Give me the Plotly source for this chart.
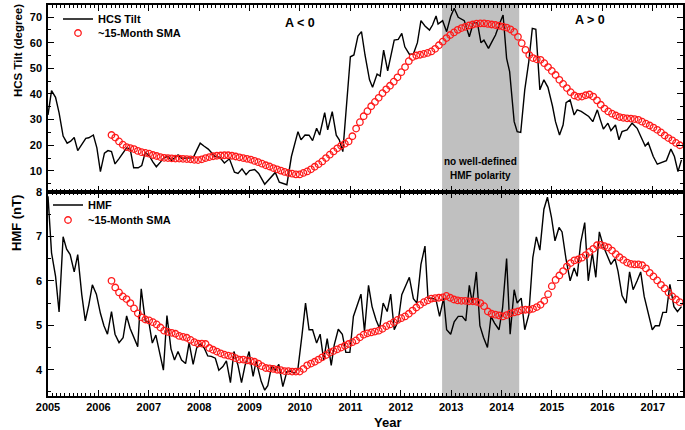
import numpy as np
import plotly.graph_objects as go
from plotly.subplots import make_subplots

# ---------------- data ----------------
tilt_year = [2005.00, 2005.07, 2005.15, 2005.22, 2005.30, 2005.38, 2005.45, 2005.52, 2005.59, 2005.67,
             2005.75, 2005.81, 2005.90, 2005.97, 2006.04, 2006.12, 2006.19, 2006.26, 2006.33, 2006.41,
             2006.48, 2006.56, 2006.63, 2006.70, 2006.79, 2006.86, 2006.93, 2007.01, 2007.08, 2007.15,
             2007.23, 2007.30, 2007.38, 2007.45, 2007.52, 2007.58, 2007.65, 2007.73, 2007.80, 2007.88,
             2007.95, 2008.02, 2008.10, 2008.18, 2008.25, 2008.31, 2008.41, 2008.50, 2008.60, 2008.70,
             2008.77, 2008.85, 2008.93, 2009.00, 2009.10, 2009.18, 2009.30, 2009.42, 2009.51, 2009.59,
             2009.74, 2009.83, 2009.96, 2010.02, 2010.10, 2010.18, 2010.25, 2010.33, 2010.39, 2010.49,
             2010.55, 2010.64, 2010.72, 2010.78, 2010.85, 2011.00, 2011.07, 2011.15, 2011.22, 2011.29,
             2011.38, 2011.44, 2011.53, 2011.59, 2011.66, 2011.74, 2011.87, 2011.95, 2012.02, 2012.08,
             2012.17, 2012.25, 2012.33, 2012.40, 2012.48, 2012.57, 2012.63, 2012.70, 2012.74, 2012.83,
             2012.91, 2012.99, 2013.06, 2013.14, 2013.22, 2013.26, 2013.36, 2013.44, 2013.52, 2013.59,
             2013.65, 2013.74, 2013.81, 2013.88, 2013.95, 2014.03, 2014.10, 2014.16, 2014.25, 2014.31,
             2014.38, 2014.46, 2014.54, 2014.61, 2014.68, 2014.76, 2014.84, 2014.92, 2015.01, 2015.07,
             2015.15, 2015.22, 2015.28, 2015.36, 2015.44, 2015.50, 2015.58, 2015.66, 2015.73, 2015.81,
             2015.90, 2015.96, 2016.02, 2016.11, 2016.17, 2016.26, 2016.33, 2016.39, 2016.49, 2016.59,
             2016.69, 2016.77, 2016.85, 2016.91, 2017.01, 2017.09, 2017.17, 2017.27, 2017.36, 2017.43,
             2017.50, 2017.57]
tilt_deg = [31.8, 41.3, 38.7, 32.6, 23.6, 20.8, 21.6, 23.0, 17.9, 20.5,
            22.7, 22.9, 24.0, 19.0, 9.7, 16.9, 17.9, 17.5, 12.7, 14.8,
            16.9, 19.0, 18.6, 11.2, 11.2, 12.1, 17.2, 15.9, 13.5, 11.6,
            13.4, 15.1, 15.7, 14.1, 15.2, 16.2, 14.9, 15.0, 15.0, 15.1,
            18.0, 20.8, 19.6, 18.5, 17.0, 15.7, 15.3, 13.1, 14.7, 9.5,
            9.0, 10.8, 8.5, 10.1, 10.5, 9.0, 4.8, 7.2, 9.4, 5.6,
            4.6, 15.6, 25.3, 22.1, 24.0, 23.9, 21.8, 26.6, 24.0, 32.7,
            26.0, 33.1, 23.9, 22.1, 17.5, 54.5, 55.2, 62.6, 64.3, 55.2,
            45.5, 42.6, 47.8, 47.0, 57.1, 49.0, 61.0, 61.3, 63.6, 58.4,
            55.5, 55.6, 60.0, 68.6, 66.5, 64.9, 66.9, 70.4, 67.3, 68.6,
            64.3, 70.2, 73.4, 69.9, 69.1, 68.6, 62.3, 67.8, 67.8, 60.0,
            61.0, 57.8, 60.4, 63.0, 66.9, 70.8, 53.9, 48.7, 29.2, 25.3,
            25.0, 41.6, 52.6, 65.6, 65.2, 41.6, 45.5, 42.6, 35.3, 29.2,
            24.0, 27.9, 36.6, 37.7, 31.8, 33.8, 33.2, 32.2, 31.2, 29.2,
            33.8, 29.9, 26.3, 28.6, 25.7, 27.9, 22.1, 25.3, 26.0, 28.6,
            26.6, 23.1, 19.7, 21.0, 15.6, 12.6, 13.2, 14.0, 18.5, 15.6,
            9.7, 14.3]

# ~15-month SMA, one value per Carrington rotation starting 2006.26
sma_start = 2006.26
cr_step = 27.2753 / 365.25
tilt_sma = [24.0, 23.0, 21.5, 20.2, 19.3, 18.9, 18.5, 17.8, 17.3, 17.0,
            16.7, 16.2, 15.8, 15.4, 15.1, 15.0, 14.9, 14.8, 14.8, 14.7,
            14.6, 14.5, 14.3, 14.2, 14.5, 15.0, 15.4, 15.7, 15.9, 16.0,
            16.1, 16.1, 15.9, 15.6, 15.3, 15.0, 14.7, 14.4, 13.9, 13.4,
            12.8, 12.2, 11.7, 11.1, 10.6, 10.1, 9.6, 9.2, 8.9, 8.6,
            8.6, 9.2, 9.8, 10.6, 11.6, 12.6, 13.7, 15.0, 16.3, 17.6,
            18.8, 19.8, 20.6, 21.5, 23.5, 26.5, 29.0, 31.3, 33.3, 35.2,
            36.9, 38.5, 40.3, 41.8, 43.2, 44.8, 46.5, 48.5, 50.5, 52.8,
            54.4, 55.0, 55.3, 55.6, 56.0, 56.6, 57.6, 59.0, 60.4, 61.8,
            63.0, 64.0, 65.0, 65.7, 66.2, 66.7, 67.1, 67.4, 67.5, 67.5,
            67.3, 67.1, 66.9, 66.6, 66.3, 65.9, 65.2, 64.2, 62.3, 59.8,
            57.2, 55.2, 54.0, 53.5, 53.3, 52.0, 50.5, 49.0, 47.4, 45.5,
            43.9, 42.3, 40.7, 39.4, 38.9, 39.0, 39.5, 39.8, 39.0, 37.5,
            35.8, 34.3, 33.2, 32.3, 31.6, 31.0, 30.7, 30.5, 30.4, 30.2,
            29.9, 29.2, 28.4, 27.7, 26.9, 26.0, 25.0, 23.8, 22.8, 21.9,
            20.9, 20.0]

hmf_year = [2005.00, 2005.07, 2005.15, 2005.22, 2005.30, 2005.37, 2005.44, 2005.52, 2005.59, 2005.67,
            2005.74, 2005.81, 2005.88, 2005.96, 2006.04, 2006.11, 2006.18, 2006.26, 2006.33, 2006.41,
            2006.49, 2006.56, 2006.63, 2006.71, 2006.78, 2006.85, 2006.93, 2007.00, 2007.07, 2007.14,
            2007.22, 2007.29, 2007.36, 2007.44, 2007.51, 2007.58, 2007.65, 2007.73, 2007.80, 2007.88,
            2007.95, 2008.02, 2008.10, 2008.17, 2008.24, 2008.32, 2008.39, 2008.47, 2008.54, 2008.62,
            2008.69, 2008.77, 2008.84, 2008.91, 2008.99, 2009.07, 2009.13, 2009.23, 2009.30, 2009.36,
            2009.44, 2009.51, 2009.58, 2009.66, 2009.74, 2009.81, 2009.89, 2009.96, 2010.04, 2010.11,
            2010.18, 2010.25, 2010.33, 2010.40, 2010.47, 2010.54, 2010.62, 2010.68, 2010.76, 2010.84,
            2010.91, 2010.99, 2011.06, 2011.13, 2011.21, 2011.28, 2011.36, 2011.43, 2011.51, 2011.58,
            2011.65, 2011.73, 2011.80, 2011.87, 2011.95, 2012.02, 2012.09, 2012.17, 2012.25, 2012.32,
            2012.40, 2012.48, 2012.54, 2012.62, 2012.70, 2012.77, 2012.85, 2012.91, 2012.99, 2013.06,
            2013.14, 2013.22, 2013.29, 2013.36, 2013.42, 2013.50, 2013.57, 2013.64, 2013.72, 2013.79,
            2013.86, 2013.95, 2014.02, 2014.10, 2014.17, 2014.25, 2014.31, 2014.39, 2014.46, 2014.54,
            2014.62, 2014.69, 2014.76, 2014.84, 2014.91, 2014.99, 2015.06, 2015.14, 2015.20, 2015.28,
            2015.36, 2015.44, 2015.50, 2015.57, 2015.65, 2015.72, 2015.80, 2015.87, 2015.94, 2016.02,
            2016.10, 2016.17, 2016.25, 2016.31, 2016.39, 2016.47, 2016.54, 2016.61, 2016.69, 2016.76,
            2016.83, 2016.91, 2016.99, 2017.05, 2017.13, 2017.20, 2017.27, 2017.34, 2017.42, 2017.49,
            2017.57]
hmf_nt = [7.90, 6.63, 6.10, 5.30, 6.99, 6.71, 6.59, 6.20, 6.59, 5.69,
          5.10, 5.46, 5.91, 5.70, 5.27, 4.99, 4.80, 5.31, 4.80, 4.61,
          4.72, 5.21, 4.93, 4.72, 4.52, 5.82, 5.10, 5.08, 4.60, 4.78,
          4.33, 3.99, 5.22, 4.47, 4.22, 4.41, 4.22, 4.14, 4.61, 4.12,
          4.49, 4.58, 4.49, 4.31, 4.30, 4.26, 3.99, 4.07, 4.20, 3.71,
          4.41, 4.10, 3.71, 4.10, 4.41, 3.85, 4.20, 3.74, 3.54, 3.64,
          4.10, 3.99, 4.12, 3.62, 3.96, 3.97, 3.92, 4.03, 4.78, 5.50,
          4.90, 4.90, 4.60, 4.80, 4.22, 4.70, 4.10, 4.56, 4.91, 4.80,
          4.39, 4.39, 5.20, 5.42, 5.70, 4.86, 5.90, 5.42, 5.12, 4.93,
          5.50, 5.31, 5.70, 4.90, 5.10, 5.69, 5.88, 6.08, 5.60, 5.50,
          6.37, 6.78, 5.61, 5.61, 5.57, 5.20, 5.61, 4.90, 4.80, 5.08,
          5.20, 5.20, 5.10, 5.90, 5.50, 6.20, 4.99, 4.73, 4.50, 5.20,
          5.05, 4.90, 5.39, 6.50, 4.80, 5.80, 5.50, 5.61, 4.90, 5.24,
          6.52, 6.99, 6.69, 7.61, 7.88, 7.43, 6.90, 7.20, 7.10, 6.48,
          6.00, 6.29, 6.10, 6.86, 7.31, 6.00, 6.63, 6.08, 7.10, 6.78,
          6.56, 6.37, 6.50, 6.22, 5.67, 5.50, 6.20, 5.80, 6.00, 6.20,
          5.65, 5.29, 4.90, 4.99, 4.99, 5.29, 5.29, 5.92, 5.42, 5.31,
          5.42]

hmf_sma = [6.00, 5.85, 5.74, 5.65, 5.59, 5.50, 5.38, 5.27, 5.18, 5.13,
           5.11, 5.07, 5.02, 4.95, 4.88, 4.85, 4.83, 4.81, 4.76, 4.74,
           4.72, 4.67, 4.62, 4.59, 4.59, 4.58, 4.49, 4.45, 4.41, 4.37,
           4.34, 4.32, 4.30, 4.26, 4.23, 4.23, 4.21, 4.20, 4.18, 4.14,
           4.08, 4.04, 4.03, 4.02, 4.00, 3.99, 3.97, 3.97, 3.96, 3.96,
           3.96, 4.02, 4.10, 4.14, 4.18, 4.23, 4.28, 4.33, 4.39, 4.42,
           4.46, 4.50, 4.54, 4.58, 4.62, 4.66, 4.73, 4.79, 4.82, 4.84,
           4.86, 4.88, 4.92, 4.98, 5.02, 5.07, 5.12, 5.16, 5.20, 5.26,
           5.33, 5.40, 5.46, 5.52, 5.56, 5.60, 5.61, 5.62, 5.63, 5.66,
           5.62, 5.58, 5.56, 5.55, 5.55, 5.54, 5.54, 5.53, 5.50, 5.43,
           5.31, 5.26, 5.24, 5.22, 5.20, 5.23, 5.27, 5.29, 5.31, 5.34,
           5.35, 5.35, 5.37, 5.41, 5.46, 5.55, 5.70, 5.88, 6.02, 6.12,
           6.22, 6.32, 6.40, 6.46, 6.48, 6.52, 6.58, 6.65, 6.72, 6.80,
           6.81, 6.78, 6.75, 6.68, 6.60, 6.53, 6.47, 6.41, 6.38, 6.37,
           6.37, 6.35, 6.28, 6.18, 6.10, 6.01, 5.91, 5.83, 5.74, 5.65,
           5.58, 5.52]

year_ticks = list(range(2005, 2018))
no_polarity_span = [2012.82, 2014.35]

# ---------------- figure ----------------
sma_x_tilt = sma_start + cr_step * np.arange(len(tilt_sma))
sma_x_hmf = sma_start + cr_step * np.arange(len(hmf_sma))

W, H = 685, 430
ML, MR, MT, MB = 48, 2, 5, 34
PW, PH = W - ML - MR, H - MT - MB


def px(xp):
    return (xp - ML) / PW


def py(yp):
    return (H - MB - yp) / PH


FONT = "Liberation Sans, Arial, sans-serif"
fig = make_subplots(rows=2, cols=1, shared_xaxes=True, vertical_spacing=0,
                    row_heights=[0.478, 0.522])

line_style = dict(color="black", width=1.4)
circ_style = dict(symbol="circle-open", size=6.5, color="#ff1a1a", line=dict(width=1.3, color="#ff1a1a"))

fig.add_trace(go.Scatter(x=tilt_year, y=tilt_deg, mode="lines", line=line_style,
                         name="HCS Tilt", legend="legend", showlegend=True), row=1, col=1)
fig.add_trace(go.Scatter(x=sma_x_tilt, y=tilt_sma, mode="markers", marker=circ_style,
                         name="~15-Month SMA", legend="legend2", showlegend=True), row=1, col=1)
fig.add_trace(go.Scatter(x=hmf_year, y=hmf_nt, mode="lines", line=line_style,
                         name="HMF", legend="legend3", showlegend=True), row=2, col=1)
fig.add_trace(go.Scatter(x=sma_x_hmf, y=hmf_sma, mode="markers", marker=circ_style,
                         name="~15-Month SMA", legend="legend4", showlegend=True), row=2, col=1)

fig.add_shape(type="rect", xref="x", yref="paper", x0=no_polarity_span[0], x1=no_polarity_span[1],
              y0=0, y1=1, fillcolor="#c0c0c0", line_width=0, layer="below")

tickfont = dict(family=FONT, size=11, color="black", weight="bold")
xcommon = dict(range=[2005, 2017.6], showline=True, linewidth=1.5, linecolor="black", mirror="allticks",
               ticks="inside", ticklen=6, tickwidth=1.2, tickcolor="black", tick0=2005, dtick=1,
               minor=dict(ticks="inside", ticklen=3, tickwidth=1, tickcolor="black", dtick=1/12, tick0=2005),
               showgrid=False, zeroline=False, tickfont=tickfont, automargin=False)
fig.update_xaxes(**xcommon)
fig.update_xaxes(showticklabels=False, row=1, col=1)
fig.update_xaxes(tickvals=year_ticks, ticktext=[str(y) for y in year_ticks], row=2, col=1)

ycommon = dict(showline=True, linewidth=1.5, linecolor="black", mirror="allticks",
               ticks="inside", ticklen=6, tickwidth=1.2, tickcolor="black",
               showgrid=False, zeroline=False, tickfont=tickfont, ticklabelstandoff=2, automargin=False)
fig.update_yaxes(**ycommon)
fig.update_yaxes(range=[1.8, 74.7], tick0=0, dtick=10,
                 minor=dict(ticks="inside", ticklen=3, tickwidth=1, tickcolor="black", dtick=5, tick0=0),
                 row=1, col=1)
fig.update_yaxes(range=[3.41, 8.0], tick0=0, dtick=1,
                 minor=dict(ticks="inside", ticklen=3, tickwidth=1, tickcolor="black", dtick=0.5, tick0=0),
                 row=2, col=1)

legfont = dict(family=FONT, size=11, color="black", weight="bold")


def leg(xp, yp):
    return dict(x=px(xp), y=py(yp), xanchor="left", yanchor="middle", bgcolor="rgba(0,0,0,0)",
                font=legfont, itemwidth=30, borderwidth=0)


fig.update_layout(
    width=W, height=H,
    margin=dict(l=ML, r=MR, t=MT, b=MB, autoexpand=False),
    paper_bgcolor="white", plot_bgcolor="white",
    font=dict(family=FONT, color="black"),
    showlegend=True,
    legend=leg(58, 19), legend2=leg(58, 33),
    legend3=leg(48, 205), legend4=leg(48, 220),
)

ann_font = dict(family=FONT, color="black", weight="bold")
fig.add_annotation(text="A < 0", x=2010.0, y=67.7, xref="x", yref="y", showarrow=False,
                   font=dict(size=12.5, **ann_font))
fig.add_annotation(text="A > 0", x=2015.75, y=68.8, xref="x", yref="y", showarrow=False,
                   font=dict(size=12.5, **ann_font))
fig.add_annotation(text="no well-defined", x=sum(no_polarity_span) / 2, y=13.5, xref="x", yref="y",
                   showarrow=False, font=dict(size=10, **ann_font))
fig.add_annotation(text="HMF polarity", x=sum(no_polarity_span) / 2, y=8.1, xref="x", yref="y",
                   showarrow=False, font=dict(size=10, **ann_font))
fig.add_annotation(text="HCS Tilt (degree)", textangle=-90, x=px(18), y=py(51), xref="paper", yref="paper",
                   xanchor="center", yanchor="middle", showarrow=False,
                   font=dict(size=11.5, **ann_font))
fig.add_annotation(text="HMF (nT)", textangle=-90, x=px(16), y=py(223),
                   xref="paper", yref="paper", xanchor="center", yanchor="middle", showarrow=False,
                   font=dict(size=13, **ann_font))
fig.add_annotation(text="Year", x=px(387), y=py(422), xref="paper", yref="paper",
                   xanchor="center", yanchor="middle", showarrow=False,
                   font=dict(size=13, **ann_font))

fig.write_html("out.html", config={"displayModeBar": False},
               post_script="document.body.style.margin='0';")
